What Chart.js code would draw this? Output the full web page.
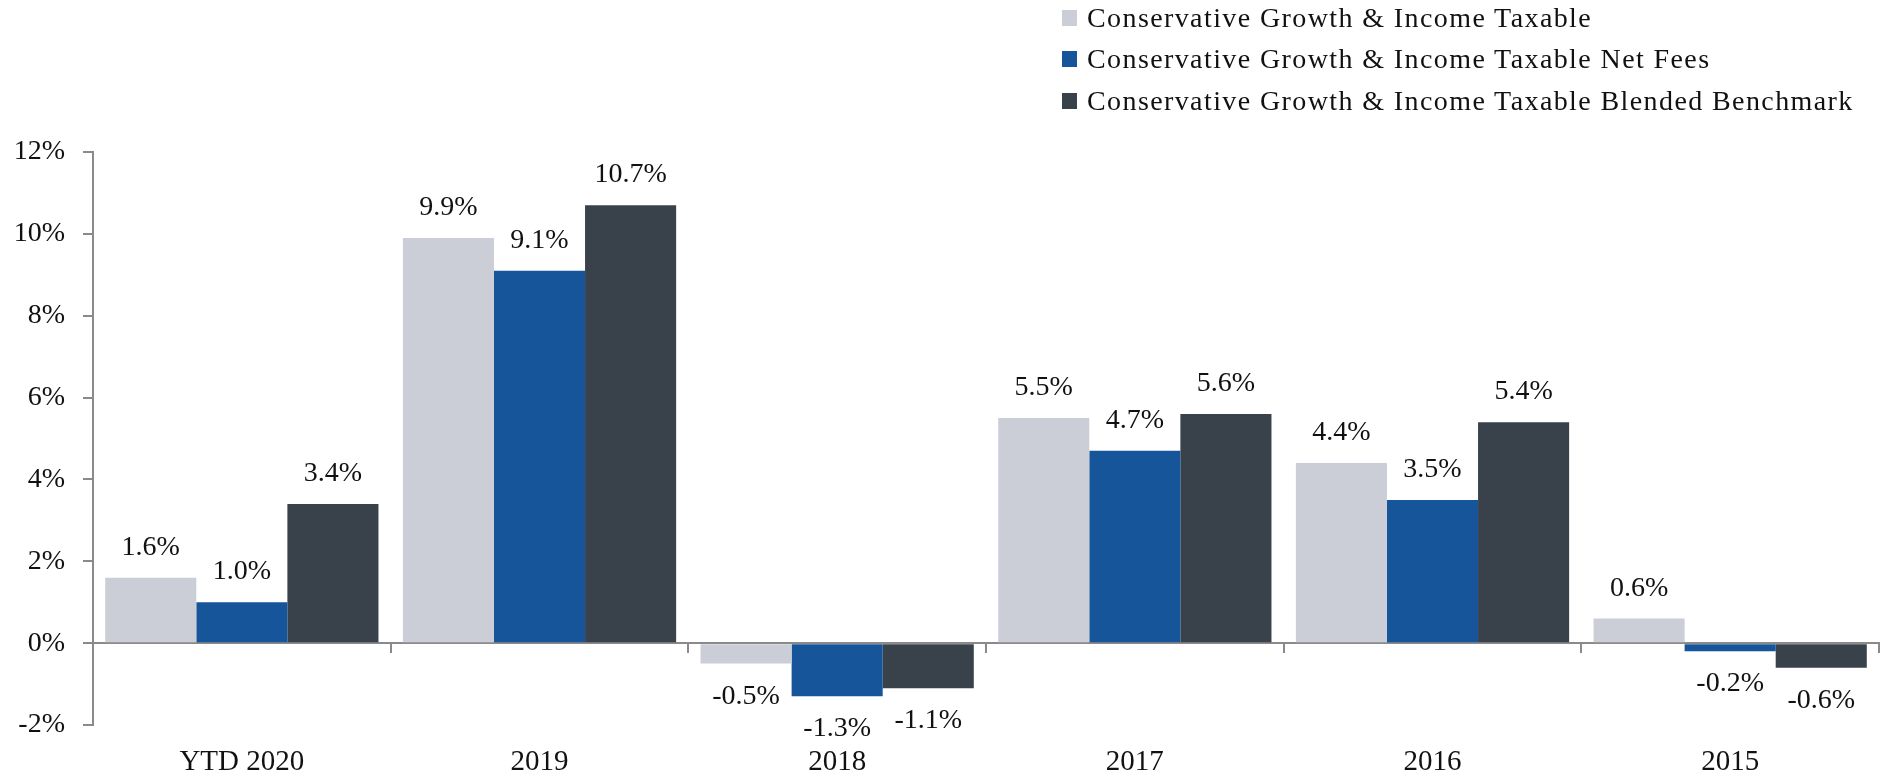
<!DOCTYPE html>
<html>
<head>
<meta charset="utf-8">
<script src="https://cdn.jsdelivr.net/npm/chart.js@4"></script>
<style>
  html, body { margin: 0; padding: 0; background: #fff; }
  #wrap { position: relative; width: 1892px; height: 778px; }
  #legend { position: absolute; left: 0; top: 0; font-family: "Liberation Serif", serif; font-size: 28px; letter-spacing: 1.4px; color: #111; }
  .item { position: absolute; left: 1062px; height: 34px; display: flex; align-items: center; white-space: nowrap; }
  .sw { width: 15px; height: 16px; margin-right: 10px; flex: none; }
</style>
</head>
<body>
<div id="wrap">
  <canvas id="c" width="1892" height="778"></canvas>
  <div id="legend"></div>
</div>
<script>
// Annual returns (%) per period
const categories = ['YTD 2020', '2019', '2018', '2017', '2016', '2015'];
const taxable   = [1.6, 9.9, -0.5, 5.5, 4.4, 0.6];
const netFees   = [1.0, 9.1, -1.3, 4.7, 3.5, -0.2];
const benchmark = [3.4, 10.7, -1.1, 5.6, 5.4, -0.6];
const seriesNames = [
  'Conservative Growth & Income Taxable',
  'Conservative Growth & Income Taxable Net Fees',
  'Conservative Growth & Income Taxable Blended Benchmark'
];
const seriesColors = ['#cbced6', '#17559b', '#39424b'];
const yMin = -2, yMax = 12, yStep = 2;

const FONT = '"Liberation Serif", serif';
const TEXT = '#111';
const AXIS = '#8a8a8a';

// Legend rows, stacked at the top right
const legendEl = document.getElementById('legend');
const legendRowsTop = [1, 42, 84];
seriesNames.forEach((name, i) => {
  const row = document.createElement('div');
  row.className = 'item';
  row.style.top = legendRowsTop[i] + 'px';
  const sw = document.createElement('span');
  sw.className = 'sw';
  sw.style.background = seriesColors[i];
  const tx = document.createElement('span');
  tx.textContent = name;
  row.appendChild(sw);
  row.appendChild(tx);
  legendEl.appendChild(row);
});

// Value labels above positive bars and below negative bars
const valueLabels = {
  id: 'valueLabels',
  afterDatasetsDraw(chart) {
    const ctx = chart.ctx;
    ctx.save();
    ctx.font = '28px ' + FONT;
    ctx.fillStyle = TEXT;
    ctx.textAlign = 'center';
    ctx.textBaseline = 'alphabetic';
    chart.data.datasets.forEach((ds, di) => {
      const meta = chart.getDatasetMeta(di);
      meta.data.forEach((bar, i) => {
        const v = ds.data[i];
        const txt = v.toFixed(1) + '%';
        if (v >= 0) {
          ctx.fillText(txt, bar.x, bar.y - 23);
        } else {
          ctx.fillText(txt, bar.x, bar.y + 40);
        }
      });
    });
    ctx.restore();
  }
};

const series = [taxable, netFees, benchmark];

new Chart(document.getElementById('c'), {
  type: 'bar',
  data: {
    labels: categories,
    datasets: series.map((d, i) => ({
      label: seriesNames[i],
      data: d,
      backgroundColor: seriesColors[i],
      borderWidth: 0,
      categoryPercentage: 0.918,
      barPercentage: 1.0
    }))
  },
  options: {
    responsive: false,
    animation: false,
    layout: { padding: { top: 152, right: 13, bottom: 0, left: 0 } },
    plugins: {
      legend: { display: false },
      tooltip: { enabled: false }
    },
    scales: {
      x: {
        position: 'bottom',
        grid: { display: false, drawTicks: false },
        border: { display: false },
        ticks: { font: { family: FONT, size: 29 }, color: TEXT, padding: 20, maxRotation: 0 },
        afterFit(scale) { scale.height = 53; }
      },
      xZero: {
        axis: 'x',
        type: 'category',
        position: { y: 0 },
        grid: { offset: true, drawOnChartArea: false, drawTicks: true, tickLength: 9, color: AXIS, lineWidth: 2 },
        border: { display: true, color: AXIS, width: 2 },
        ticks: { display: false }
      },
      y: {
        min: yMin,
        max: yMax,
        grid: { drawOnChartArea: false, drawTicks: true, tickLength: 10, color: AXIS, lineWidth: 2 },
        border: { display: true, color: AXIS, width: 2 },
        ticks: {
          stepSize: yStep,
          font: { family: FONT, size: 28 },
          color: TEXT,
          padding: 18,
          callback: (v) => v + '%'
        },
        afterFit(scale) { scale.width = 93; }
      }
    }
  },
  plugins: [valueLabels]
});
</script>
</body>
</html>
